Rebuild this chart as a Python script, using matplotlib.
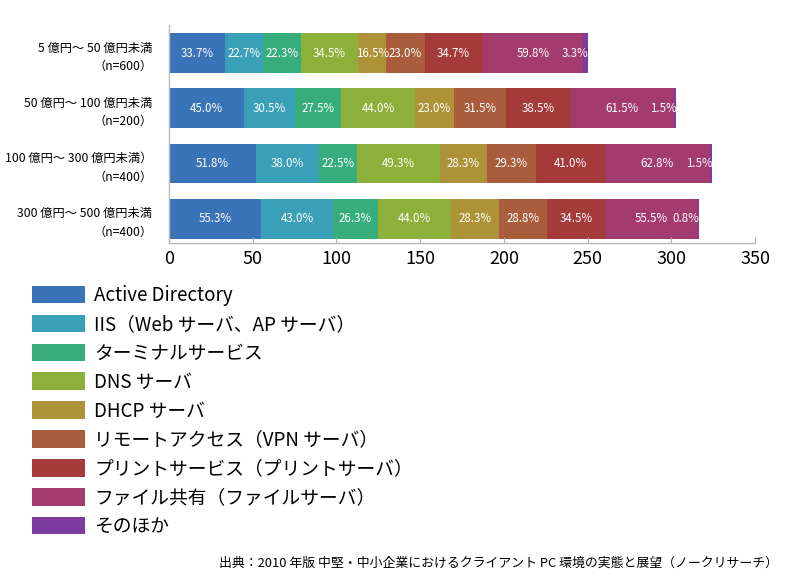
import matplotlib
matplotlib.use("Agg")
import matplotlib.pyplot as plt
from matplotlib.patches import Patch
import numpy as np

plt.rcParams['font.family'] = ['Noto Sans CJK JP', 'DejaVu Sans']

categories = ["5 億円～ 50 億円未満\n（n=600）",
              "50 億円～ 100 億円未満\n（n=200）",
              "100 億円～ 300 億円未満）\n（n=400）",
              "300 億円～ 500 億円未満\n（n=400）"]
series_names = ["Active Directory",
                "IIS（Web サーバ、AP サーバ）",
                "ターミナルサービス",
                "DNS サーバ",
                "DHCP サーバ",
                "リモートアクセス（VPN サーバ）",
                "プリントサービス（プリントサーバ）",
                "ファイル共有（ファイルサーバ）",
                "そのほか"]
active_directory = [33.7, 45.0, 51.8, 55.3]
iis = [22.7, 30.5, 38.0, 43.0]
terminal = [22.3, 27.5, 22.5, 26.3]
dns = [34.5, 44.0, 49.3, 44.0]
dhcp = [16.5, 23.0, 28.3, 28.3]
remote = [23.0, 31.5, 29.3, 28.8]
printing = [34.7, 38.5, 41.0, 34.5]
file_share = [59.8, 61.5, 62.8, 55.5]
other = [3.3, 1.5, 1.5, 0.8]
series_values = [active_directory, iis, terminal, dns, dhcp, remote,
                 printing, file_share, other]
xticks = [0, 50, 100, 150, 200, 250, 300, 350]

colors = ["#3b73b9", "#3aa0b8", "#36ad7a", "#8db03a", "#ad9238",
          "#a95d3c", "#a53a3b", "#a43b6e", "#7d3a9f"]

fig = plt.figure(figsize=(8, 5.88), dpi=100)
ax = fig.add_axes([0.211, 0.5867, 0.733, 0.3701])

y = np.arange(len(categories))
left = np.zeros(len(categories))
for i, (name, vals) in enumerate(zip(series_names, series_values)):
    vals = np.array(vals)
    ax.barh(y, vals, left=left, height=0.72, color=colors[i], label=name)
    for j in range(len(categories)):
        if i == len(series_values) - 1:
            ax.text(left[j] + vals[j], y[j], f"{vals[j]:.1f}%", ha='right',
                    va='center', color='white', fontsize=8.3)
        else:
            ax.text(left[j] + vals[j] / 2, y[j], f"{vals[j]:.1f}%", ha='center',
                    va='center', color='white', fontsize=8.3)
    left += vals

ax.set_xlim(0, 350)
ax.set_ylim(3.44, -0.5)
ax.set_xticks(xticks)
ax.set_xticklabels([str(t) for t in xticks], fontsize=13)
ax.set_yticks(y)
ax.set_yticklabels(categories, fontsize=8.8, linespacing=1.55, ha='right')
ax.tick_params(axis='y', length=0, pad=12)
ax.tick_params(axis='x', direction='in', length=4, color='#b0b0b0', pad=5)
for s in ['top', 'right']:
    ax.spines[s].set_visible(False)
for s in ['left', 'bottom']:
    ax.spines[s].set_color('#b8b8b8')
    ax.spines[s].set_linewidth(1.0)

handles = [Patch(facecolor=c, edgecolor='none') for c in colors]
fig.legend(handles, series_names, loc='upper left',
           bbox_to_anchor=(32 / 800, 1 - 285 / 588), frameon=False,
           fontsize=13.5, handlelength=2.83, handleheight=1.07,
           handletextpad=0.5, labelspacing=0.42, borderpad=0, borderaxespad=0)

fig.text(778 / 800, 1 - 563 / 588,
         "出典：2010 年版 中堅・中小企業におけるクライアント PC 環境の実態と展望（ノークリサーチ）",
         ha='right', va='center', fontsize=9.3)

fig.savefig("out.png", dpi=100)
